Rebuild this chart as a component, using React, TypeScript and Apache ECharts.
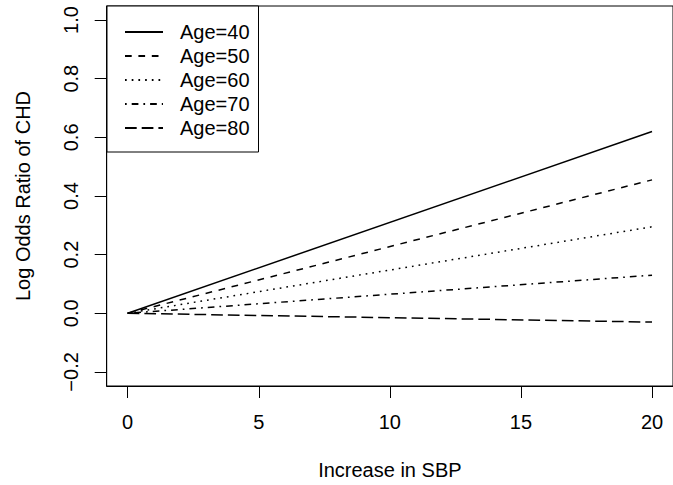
import React, { useEffect, useRef } from "react";
import * as echarts from "echarts";

// ---- data ----
const sbpIncrease = [0, 20];
const ageLabels = ["Age=40", "Age=50", "Age=60", "Age=70", "Age=80"];
const logOR40 = [0.0, 0.62];
const logOR50 = [0.0, 0.455];
const logOR60 = [0.0, 0.295];
const logOR70 = [0.0, 0.13];
const logOR80 = [0.0, -0.03];
const xTicks = [0, 5, 10, 15, 20];
const yTicks = [-0.2, 0.0, 0.2, 0.4, 0.6, 0.8, 1.0];

// ---- styles (R lty 1..5) ----
const dashStyles: any[] = [
  "solid",
  [6.7, 6.7],
  [1.7, 5],
  [1.7, 5, 6.7, 5],
  [11.7, 5],
];

const FONT = "'Liberation Sans', Arial, Helvetica, sans-serif";

export default function App() {
  const ref = useRef<HTMLDivElement>(null);
  useEffect(() => {
    if (!ref.current) return;
    const chart = echarts.init(ref.current, null, { renderer: "svg" });
    const allSeries = [logOR40, logOR50, logOR60, logOR70, logOR80];
    const series = allSeries.map((vals, i) => ({
      name: ageLabels[i],
      type: "line",
      data: sbpIncrease.map((x, j) => [x, vals[j]]),
      symbol: "none",
      showSymbol: false,
      lineStyle: { color: "#000", width: 1.5, type: dashStyles[i], cap: "butt" },
      itemStyle: { color: "#000" },
      emphasis: { disabled: true },
    }));
    chart.setOption({
      animation: false,
      backgroundColor: "#fff",
      textStyle: { fontFamily: FONT },
      grid: {
        left: 106.7,
        top: 6,
        width: 575.6,
        height: 383,
        show: true,
        borderColor: "#000",
        borderWidth: 1,
        backgroundColor: "transparent",
      },
      legend: {
        orient: "vertical",
        left: 107,
        top: 6,
        padding: [16, 9, 14, 17],
        itemWidth: 38,
        itemHeight: 20,
        itemGap: 4,
        borderColor: "#000",
        borderWidth: 1,
        backgroundColor: "#fff",
        selectedMode: false,
        itemStyle: { opacity: 0 },
        textStyle: {
          fontSize: 20,
          fontFamily: FONT,
          color: "#000",
          lineHeight: 20,
          padding: [0, 0, 0, 12],
        },
        data: ageLabels,
      },
      xAxis: {
        type: "value",
        min: -0.8,
        max: 20.8,
        name: "Increase in SBP",
        nameLocation: "middle",
        nameGap: 74,
        nameTextStyle: { fontSize: 20, fontFamily: FONT, color: "#000" },
        axisLine: { show: true, onZero: false, lineStyle: { color: "#000", width: 1 } },
        axisTick: { show: true, length: 12, customValues: xTicks, lineStyle: { color: "#000", width: 1 } },
        axisLabel: {
          customValues: xTicks,
          margin: 26,
          fontSize: 20,
          fontFamily: FONT,
          color: "#000",
          formatter: (v: number) => String(v),
        },
        splitLine: { show: false },
      },
      yAxis: {
        type: "value",
        min: -0.248,
        max: 1.048,
        name: "Log Odds Ratio of CHD",
        nameLocation: "middle",
        nameRotate: 90,
        nameGap: 74,
        nameTextStyle: { fontSize: 20, fontFamily: FONT, color: "#000" },
        axisLine: { show: true, onZero: false, lineStyle: { color: "#000", width: 1 } },
        axisTick: { show: true, length: 12, customValues: yTicks, lineStyle: { color: "#000", width: 1 } },
        axisLabel: {
          customValues: yTicks,
          rotate: 90,
          margin: 26,
          fontSize: 20,
          fontFamily: FONT,
          color: "#000",
          formatter: (v: number) => v.toFixed(1).replace("-", "\u2212"),
        },
        splitLine: { show: false },
      },
      series,
    });
    return () => chart.dispose();
  }, []);
  return (
    <div
      ref={ref}
      style={{ position: "fixed", left: 0, top: 0, width: 673, height: 485 }}
    />
  );
}
